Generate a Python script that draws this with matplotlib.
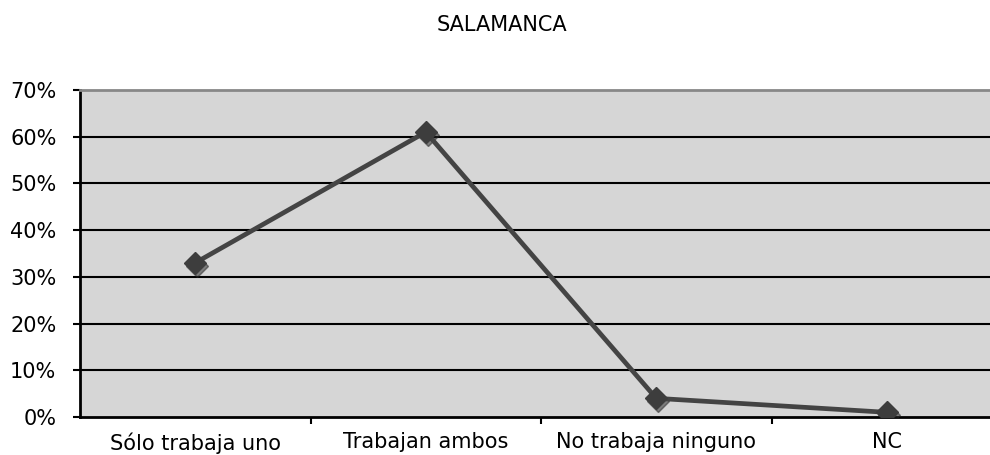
import matplotlib
matplotlib.use("Agg")
import matplotlib.pyplot as plt
from matplotlib.ticker import FuncFormatter

categories = ["Sólo trabaja uno", "Trabajan ambos", "No trabaja ninguno", "NC"]
values = [33, 61, 4, 1]
yticks = [0, 10, 20, 30, 40, 50, 60, 70]

W, H = 990, 455
fig = plt.figure(figsize=(W / 100, H / 100), dpi=100)
# plot area runs past the right edge of the image, as in the original
x0, x1, y0, y1 = 80, 1002, 90, 417
ax = fig.add_axes([x0 / W, 1 - y1 / H, (x1 - x0) / W, (y1 - y0) / H])
ax.set_facecolor("#d6d6d6")

x = list(range(len(categories)))
# shadow
ax.plot(x, values, color="#222222", lw=0, marker="D", ms=11, alpha=0.5,
        transform=ax.transData + matplotlib.transforms.ScaledTranslation(2 / 100, -3 / 100, fig.dpi_scale_trans),
        zorder=3)
ax.plot(x, values, color="#444444", lw=3.4, marker="D", ms=11,
        mfc="#3d3d3d", mec="#3d3d3d", zorder=4)

ax.set_xlim(-0.5, len(categories) - 0.5)
ax.set_ylim(0, 70)
ax.set_yticks(yticks)
ax.yaxis.set_major_formatter(FuncFormatter(lambda v, _: f"{v:.0f}%"))
ax.set_xticks([i + 0.5 for i in range(len(categories) - 1)], minor=False)
ax.set_xticklabels([])
ax.set_xticks(x, minor=True)
ax.set_xticklabels(categories, minor=True)
ax.tick_params(axis="x", which="major", length=5, width=1.5, color="black", direction="out")
ax.tick_params(axis="x", which="minor", length=0, pad=11, labelsize=15)
ax.tick_params(axis="y", length=5, width=1.5, color="black", labelsize=15, pad=12)

for v in yticks[1:-1]:
    ax.axhline(v, color="black", lw=1.5, zorder=1)

for s in ["left", "bottom"]:
    ax.spines[s].set_color("black")
    ax.spines[s].set_linewidth(2)
ax.spines["top"].set_color("#888888")
ax.spines["top"].set_linewidth(2)
ax.spines["right"].set_visible(False)

fig.text(502 / W, 1 - 25 / H, "SALAMANCA", ha="center", va="center", fontsize=15)

fig.savefig("out.png", dpi=100)
